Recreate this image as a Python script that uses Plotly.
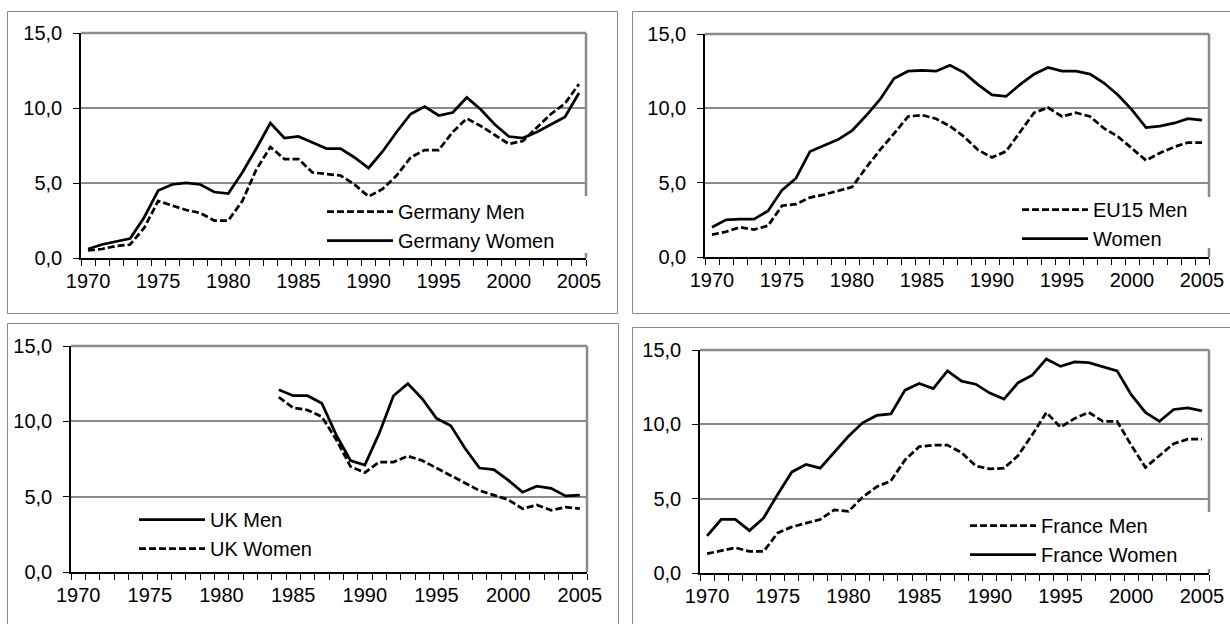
import plotly.graph_objects as go

# ---------------- data ----------------
years = list(range(1970, 2006))
uk_years = list(range(1984, 2006))

germany_men = [0.5, 0.6, 0.8, 0.9, 2.0, 3.8, 3.5, 3.2, 3.0, 2.5,
               2.5, 3.8, 5.9, 7.4, 6.6, 6.6, 5.7, 5.6, 5.5, 4.9,
               4.1, 4.6, 5.5, 6.7, 7.2, 7.2, 8.4, 9.3, 8.8, 8.2,
               7.6, 7.8, 8.7, 9.6, 10.3, 11.6]
germany_women = [0.6, 0.9, 1.1, 1.3, 2.7, 4.5, 4.9, 5.0, 4.9, 4.4,
                 4.3, 5.7, 7.3, 9.0, 8.0, 8.1, 7.7, 7.3, 7.3, 6.7,
                 6.0, 7.1, 8.4, 9.6, 10.1, 9.5, 9.7, 10.7, 9.9, 8.9,
                 8.1, 8.0, 8.4, 8.9, 9.4, 11.0]

eu15_men = [1.5, 1.7, 2.0, 1.85, 2.1, 3.45, 3.55, 4.0, 4.2, 4.45,
            4.7, 6.0, 7.2, 8.3, 9.45, 9.55, 9.3, 8.8, 8.1, 7.2,
            6.7, 7.1, 8.4, 9.7, 10.05, 9.45, 9.7, 9.45, 8.65, 8.1,
            7.3, 6.5, 7.0, 7.4, 7.7, 7.7]
eu15_women = [2.0, 2.5, 2.55, 2.55, 3.1, 4.5, 5.3, 7.1, 7.5, 7.9,
              8.5, 9.5, 10.6, 12.0, 12.5, 12.55, 12.5, 12.9, 12.4, 11.6,
              10.9, 10.8, 11.6, 12.3, 12.75, 12.5, 12.5, 12.3, 11.7, 10.9,
              9.9, 8.7, 8.8, 9.0, 9.3, 9.2]

uk_men = [12.1, 11.7, 11.7, 11.2, 9.1, 7.4, 7.1, 9.2, 11.7, 12.5, 11.5,
          10.2, 9.7, 8.2, 6.9, 6.8, 6.1, 5.3, 5.7, 5.55, 5.05, 5.1]
uk_women = [11.6, 10.9, 10.75, 10.3, 8.8, 7.0, 6.6, 7.3, 7.3, 7.7, 7.4,
            6.9, 6.4, 5.9, 5.4, 5.1, 4.8, 4.2, 4.45, 4.1, 4.3, 4.2]

france_men = [1.3, 1.5, 1.7, 1.45, 1.45, 2.7, 3.1, 3.35, 3.6, 4.25,
              4.15, 5.1, 5.8, 6.2, 7.6, 8.5, 8.6, 8.6, 8.1, 7.2,
              7.0, 7.05, 7.9, 9.3, 10.8, 9.8, 10.4, 10.8, 10.2, 10.2,
              8.6, 7.1, 7.9, 8.7, 9.0, 9.0]
france_women = [2.5, 3.6, 3.6, 2.85, 3.7, 5.3, 6.8, 7.3, 7.05, 8.1,
                9.2, 10.1, 10.6, 10.7, 12.3, 12.75, 12.4, 13.6, 12.9, 12.7,
                12.1, 11.7, 12.8, 13.3, 14.4, 13.9, 14.2, 14.15, 13.85, 13.6,
                12.0, 10.8, 10.2, 11.0, 11.1, 10.9]

x_tick_vals = [1970, 1975, 1980, 1985, 1990, 1995, 2000, 2005]
y_tick_vals = [0, 5, 10, 15]
y_tick_text = ["0,0", "5,0", "10,0", "15,0"]

# ---------------- layout helpers ----------------
W, H = 1230, 624
FONT = "Liberation Sans, Arial, sans-serif"
GRAY = "#8a8a8a"


def px(x):
    return x / W


def py(y):
    return 1 - y / H


# plot-area rectangles in pixels: (left, right, top, bottom)
areas = [
    (81, 586, 33, 258),
    (705, 1209, 34, 257),
    (71, 587, 346, 572),
    (700, 1209, 350, 573),
]
# panel frames in pixels
frames = [
    (7.5, 617.5, 11.5, 313.5),
    (632.5, 1240, 11.5, 313.5),
    (7.5, 618.5, 323.5, 640),
    (632.5, 1240, 327.5, 640),
]
# legend anchors (left, top) in pixels
legend_pos = [(322, 192), (1017, 190), (134, 500), (965, 506)]
# part of the right plot border hidden behind the legend box (top, bottom px)
border_gaps = [(196, 253), (197, 248), None, (512, 569)]

panels = [
    [("Germany Men", years, germany_men, "dash"),
     ("Germany Women", years, germany_women, "solid")],
    [("EU15 Men", years, eu15_men, "dash"),
     ("Women", years, eu15_women, "solid")],
    [("UK Men", uk_years, uk_men, "solid"),
     ("UK Women", uk_years, uk_women, "dash")],
    [("France Men", years, france_men, "dash"),
     ("France Women", years, france_women, "solid")],
]

fig = go.Figure()
shapes = []

for i, (series, area, frame, lp, gap) in enumerate(
        zip(panels, areas, frames, legend_pos, border_gaps)):
    n = "" if i == 0 else str(i + 1)
    xa, ya = "x" + n, "y" + n
    leg = "legend" + n
    for name, xs, ys, dash in series:
        fig.add_trace(go.Scatter(
            x=xs, y=ys, name=name, mode="lines",
            line=dict(color="black", width=2.75,
                      dash="7px,3px" if dash == "dash" else "solid"),
            xaxis=xa, yaxis=ya, legend=leg,
        ))
    l, r, t, b = area
    fig.layout["xaxis" + n] = dict(
        domain=[px(l), px(r)], anchor=ya, range=[1969.5, 2005.5],
        tickvals=x_tick_vals, ticks="", showgrid=False, zeroline=False,
        showline=True, linecolor="black", linewidth=1.5,
        minor=dict(ticks="outside", tick0=1969.5, dtick=1, ticklen=6,
                   tickcolor="black", tickwidth=1, showgrid=False),
        tickfont=dict(family=FONT, size=20, color="black"),
        ticklabelstandoff=4, automargin=False, fixedrange=True,
    )
    fig.layout["yaxis" + n] = dict(
        domain=[py(b), py(t)], anchor=xa, range=[0, 15],
        tickvals=y_tick_vals, ticktext=y_tick_text,
        ticks="outside", ticklen=6, tickcolor="black", tickwidth=1,
        showgrid=True, gridcolor=GRAY, gridwidth=1.5, zeroline=False,
        showline=True, linecolor="black", linewidth=1.5,
        tickfont=dict(family=FONT, size=20, color="black"),
        ticklabelstandoff=7, automargin=False, fixedrange=True,
    )
    fig.layout[leg] = dict(
        x=px(lp[0]), y=py(lp[1]), xanchor="left", yanchor="top",
        bgcolor="rgba(0,0,0,0)", borderwidth=0, tracegroupgap=0,
        itemwidth=66,
        font=dict(family=FONT, size=20, color="black"),
    )
    # plot-area border: gray top and right edges (right edge interrupted by legend)
    bline = dict(color=GRAY, width=2.5)
    shapes.append(dict(type="line", xref=xa + " domain", yref=ya + " domain",
                       x0=0, x1=1, y0=1, y1=1, layer="below", line=bline))
    if gap is None:
        segs = [(0, 1)]
    else:
        g_top = (b - gap[0]) / (b - t)
        g_bot = (b - gap[1]) / (b - t)
        segs = [(0, g_bot), (g_top, 1)]
    for y0, y1 in segs:
        shapes.append(dict(type="line", xref=xa + " domain", yref=ya + " domain",
                           x0=1, x1=1, y0=y0, y1=y1, layer="below", line=bline))
    fl, fr, ft, fb = frame
    shapes.append(dict(type="rect", xref="paper", yref="paper",
                       x0=px(fl), x1=px(fr), y0=py(fb), y1=py(ft),
                       line=dict(color=GRAY, width=1), layer="below"))

fig.update_layout(
    width=W, height=H, margin=dict(l=0, r=0, t=0, b=0, autoexpand=False),
    paper_bgcolor="white", plot_bgcolor="white",
    shapes=shapes, showlegend=True,
    font=dict(family=FONT, size=20, color="black"),
)

fig.write_html("out.html",
               config={"displayModeBar": False, "staticPlot": False},
               post_script="document.body.style.margin='0';document.body.style.overflow='hidden';")
